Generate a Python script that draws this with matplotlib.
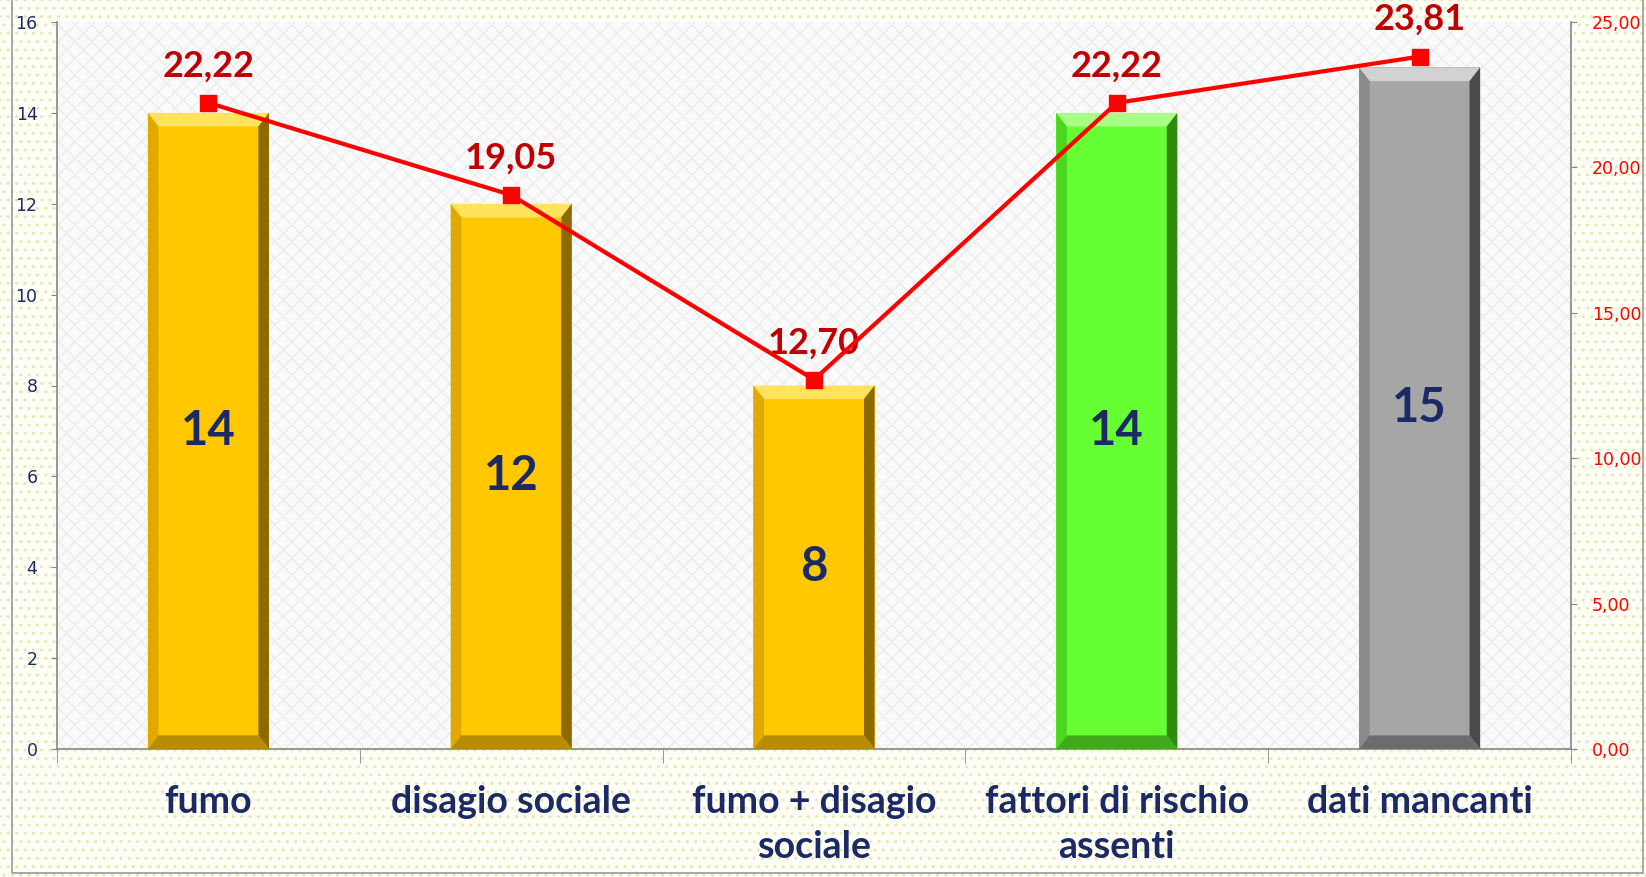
import matplotlib.pyplot as plt
from matplotlib.patches import Polygon, Rectangle
from matplotlib.ticker import FuncFormatter, FixedLocator

# dati
categorie = ['fumo', 'disagio sociale', 'fumo + disagio\nsociale',
             'fattori di rischio\nassenti', 'dati mancanti']
casi = [14, 12, 8, 14, 15]
percentuali = [22.22, 19.05, 12.70, 22.22, 23.81]

# colori barre: base, alto, sinistra, destra, basso
oro = ['#FFC800', '#FFE35C', '#E0A800', '#8C6A00', '#B88C00']
verde = ['#66FF33', '#A8FF85', '#4CD620', '#2E8A10', '#40AA1A']
grigio = ['#A6A6A6', '#D2D2D2', '#8A8A8A', '#4A4A4A', '#6C6C6C']
colori = [oro, oro, oro, verde, grigio]

navy = '#1B2A66'
rosso = '#FF0000'
rosso_scuro = '#C00000'

fig = plt.figure(figsize=(16.46, 8.77), dpi=100)
fig.patch.set_facecolor('white')

# sfondo puntinato
sfondo = Rectangle((0, 0), 1, 1, transform=fig.transFigure, facecolor='#FEFEF7',
                   edgecolor='#E3E9B0', hatch='..', linewidth=0, zorder=-10)
fig.patches.append(sfondo)
bordo = Rectangle((12 / 1646, 4 / 877), 1631 / 1646, 1.0, transform=fig.transFigure,
                  facecolor='none', edgecolor='#9A9A9A', linewidth=1.2, zorder=-9)
fig.patches.append(bordo)

ax = fig.add_axes([57 / 1646, 128 / 877, 1514 / 1646, 727 / 877])
ax.set_facecolor('#FAFAFA')
ax.patch.set_hatch('xx')
ax.patch.set_edgecolor('#ECECEC')
ax.patch.set_linewidth(0)

w = 0.2
bx = 0.035
by = 0.3
x = list(range(len(casi)))
for i, (h, c) in enumerate(zip(casi, colori)):
    ax.bar(i, h, width=2 * w, color=c[0], zorder=2)
    l, r = i - w, i + w
    ax.add_patch(Polygon([(l, h), (r, h), (r - bx, h - by), (l + bx, h - by)],
                         closed=True, facecolor=c[1], edgecolor='none', zorder=3))
    ax.add_patch(Polygon([(l, h), (l, 0), (l + bx, by), (l + bx, h - by)],
                         closed=True, facecolor=c[2], edgecolor='none', zorder=3))
    ax.add_patch(Polygon([(r, h), (r, 0), (r - bx, by), (r - bx, h - by)],
                         closed=True, facecolor=c[3], edgecolor='none', zorder=3))
    ax.add_patch(Polygon([(l, 0), (r, 0), (r - bx, by), (l + bx, by)],
                         closed=True, facecolor=c[4], edgecolor='none', zorder=3))
    ax.text(i, h / 2, str(h), ha='center', va='center', fontsize=34,
            fontweight='bold', color=navy, family='Lato', zorder=4)

ax.set_xlim(-0.5, 4.5)
ax.set_ylim(0, 16)
ax.set_yticks(range(0, 17, 2))
ax.set_xticks(x)
ax.set_xticklabels(categorie, fontsize=27, fontweight='bold', color=navy,
                   family='Lato', linespacing=1.38)
ax.xaxis.set_minor_locator(FixedLocator([-0.5, 0.5, 1.5, 2.5, 3.5, 4.5]))
ax.tick_params(axis='x', which='major', length=0, pad=26)
ax.tick_params(axis='x', which='minor', length=10, color='#868686')
ax.tick_params(axis='y', length=4, color='#868686', labelsize=12.5,
               labelcolor=navy, pad=10)
for s in ['top', 'right']:
    ax.spines[s].set_visible(False)
for s in ['left', 'bottom']:
    ax.spines[s].set_color('#868686')
    ax.spines[s].set_linewidth(1.2)

ax2 = ax.twinx()
ax2.plot(x, percentuali, color=rosso, linewidth=3, marker='s', markersize=12,
         zorder=5)
for i, v in enumerate(percentuali):
    ax2.annotate(f'{v:.2f}'.replace('.', ','), (i, v), xytext=(0, 19),
                 textcoords='offset points', ha='center', va='baseline',
                 fontsize=26, fontweight='bold', color=rosso_scuro, family='Lato',
                 annotation_clip=False)
ax2.set_ylim(0, 25)
ax2.set_yticks(range(0, 26, 5))
ax2.yaxis.set_major_formatter(FuncFormatter(lambda v, p: f'{v:.2f}'.replace('.', ',')))
ax2.tick_params(axis='y', length=4, color='#868686', labelsize=12.5,
                labelcolor=rosso, pad=11)
for s in ['top', 'left', 'bottom']:
    ax2.spines[s].set_visible(False)
ax2.spines['right'].set_color('#868686')
ax2.spines['right'].set_linewidth(1.2)

fig.savefig('out.png', dpi=100)
